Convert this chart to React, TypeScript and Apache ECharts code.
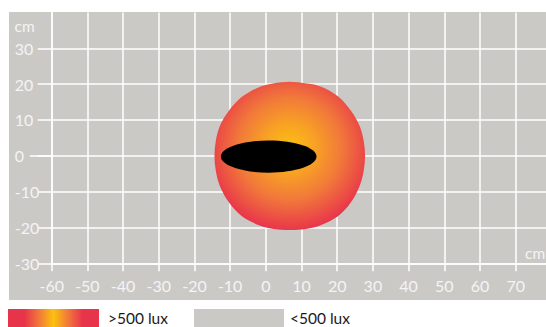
import { useEffect, useRef } from "react";
import * as echarts from "echarts";

const xTicks = [-60, -50, -40, -30, -20, -10, 0, 10, 20, 30, 40, 50, 60, 70];
const yTicks = [-30, -20, -10, 0, 10, 20, 30];
const yLongTicks = [0];
const unitLabel = "cm";

// outline of the >500 lux zone, read clockwise from the top (cm)
const zoneOutline: [number, number][] = [
  [6.7, 20.7], [11.5, 20.2], [15.5, 19.3], [20.2, 16.6], [23.9, 12.5], [26.2, 8.5],
  [27.4, 4.3], [27.8, 0], [27.4, -4.3], [26.2, -8.6], [23.7, -13.2], [20.2, -16.9],
  [15.5, -19.3], [11.2, -20.4], [6.7, -20.7], [2.2, -20.4], [-2.1, -19.3], [-6.7, -16.9],
  [-10.2, -13.2], [-12.8, -8.6], [-14.0, -4.3], [-14.4, 0], [-14.0, 4.3], [-12.8, 8.5],
  [-10.4, 12.5], [-6.8, 16.4], [-2.1, 19.1], [2.0, 20.2],
];

// black head (ellipse): centre and radii in cm
const headCenter: [number, number] = [0.8, -0.2];
const headRadii: [number, number] = [13.4, 4.5];

const legendLabels = [">500 lux", "<500 lux"];

const GREY = "#cbc9c6";
const LABEL = "#f4f4f4";
const RED = "#e8344b";
const ORANGE = "#f1783a";
const YELLOW = "#fcc10f";
const FONT = "Lato";

// closed Catmull-Rom curve through pixel points, as SVG path data (rendering only)
function closedCurve(pts: number[][]): string {
  const n = pts.length;
  let d = `M${pts[0][0]},${pts[0][1]}`;
  for (let i = 0; i < n; i++) {
    const p0 = pts[(i - 1 + n) % n];
    const p1 = pts[i];
    const p2 = pts[(i + 1) % n];
    const p3 = pts[(i + 2) % n];
    const c1x = p1[0] + (p2[0] - p0[0]) / 6;
    const c1y = p1[1] + (p2[1] - p0[1]) / 6;
    const c2x = p2[0] - (p3[0] - p1[0]) / 6;
    const c2y = p2[1] - (p3[1] - p1[1]) / 6;
    d += ` C${c1x},${c1y} ${c2x},${c2y} ${p2[0]},${p2[1]}`;
  }
  return d + " Z";
}

export default function App() {
  const ref = useRef<HTMLDivElement>(null);
  useEffect(() => {
    if (!ref.current) return;
    const chart = echarts.init(ref.current, undefined, { renderer: "svg" });
    const ySplitColors = [...yTicks.map(() => "#ffffff"), "rgba(0,0,0,0)"];
    const textStyle = (text: string, fill: string, size: number) => ({
      text,
      fill,
      fontSize: size,
      fontFamily: FONT,
      verticalAlign: "middle",
      lineHeight: 12,
    });
    const white = { color: "#ffffff", width: 1.5 };
    chart.setOption({
      animation: false,
      backgroundColor: "#ffffff",
      grid: { left: 51.7, top: 12.5, right: -3, bottom: 63.7, containLabel: false },
      xAxis: {
        type: "value",
        min: -60,
        max: 78.5,
        interval: 10,
        axisLine: { show: true, onZero: false, lineStyle: white },
        axisTick: { show: true, length: 8, customValues: xTicks, lineStyle: white },
        axisLabel: { customValues: xTicks, color: LABEL, fontSize: 16, fontFamily: FONT, margin: 14.5 },
        splitLine: { show: true, lineStyle: white },
      },
      yAxis: [
        {
          type: "value",
          min: -30,
          max: 40,
          interval: 10,
          axisLine: { show: true, onZero: false, lineStyle: white },
          axisTick: { show: true, length: 14, customValues: yTicks, lineStyle: white },
          axisLabel: { customValues: yTicks, color: LABEL, fontSize: 16, fontFamily: FONT, margin: 37, align: "left" },
          splitLine: { show: true, lineStyle: { color: ySplitColors, width: 1.5 } },
        },
        {
          type: "value",
          position: "left",
          min: -30,
          max: 40,
          interval: 10,
          axisLine: { show: false, onZero: false },
          axisTick: { show: true, length: 22, customValues: yLongTicks, lineStyle: white },
          axisLabel: { show: false },
          splitLine: { show: false },
        },
      ],
      graphic: [
        { type: "rect", z: -100, shape: { x: 9, y: 12, width: 540, height: 288 }, style: { fill: GREY } },
        { type: "text", x: 14.5, y: 25.5, style: textStyle(unitLabel, LABEL, 15.5) },
        { type: "text", x: 525, y: 252.5, style: textStyle(unitLabel, LABEL, 15.5) },
        {
          type: "rect",
          shape: { x: 8, y: 309, width: 91, height: 22 },
          style: {
            fill: new echarts.graphic.LinearGradient(0, 0, 1, 0, [
              { offset: 0, color: RED },
              { offset: 0.18, color: RED },
              { offset: 0.34, color: ORANGE },
              { offset: 0.5, color: YELLOW },
              { offset: 0.66, color: ORANGE },
              { offset: 0.82, color: RED },
              { offset: 1, color: RED },
            ]),
          },
        },
        { type: "text", x: 108, y: 317.7, style: textStyle(legendLabels[0], "#1a1a1a", 15.5) },
        { type: "rect", shape: { x: 194, y: 309, width: 90, height: 22 }, style: { fill: GREY } },
        { type: "text", x: 290, y: 317.7, style: textStyle(legendLabels[1], "#1a1a1a", 15.5) },
      ],
      series: [
        {
          type: "custom",
          name: ">500 lux",
          coordinateSystem: "cartesian2d",
          data: [zoneOutline[0]],
          z: 3,
          renderItem: (_params: any, api: any) => ({
            type: "path",
            shape: { pathData: closedCurve(zoneOutline.map((p) => api.coord(p))) },
            style: {
              fill: new echarts.graphic.RadialGradient(0.5, 0.45, 0.56, [
                { offset: 0, color: YELLOW },
                { offset: 0.3, color: "#f8a224" },
                { offset: 0.62, color: ORANGE },
                { offset: 1, color: RED },
              ]),
            },
          }),
        },
        {
          type: "custom",
          name: "head",
          coordinateSystem: "cartesian2d",
          data: [headCenter],
          z: 4,
          renderItem: (_params: any, api: any) => {
            const c = api.coord(headCenter);
            const s = api.size([headRadii[0], headRadii[1]]);
            return {
              type: "ellipse",
              shape: { cx: c[0], cy: c[1], rx: s[0], ry: s[1] },
              style: { fill: "#000000" },
            };
          },
        },
      ],
    });
    return () => chart.dispose();
  }, []);
  return (
    <div
      ref={ref}
      style={{ position: "fixed", left: 0, top: 0, width: 546, height: 327 }}
    />
  );
}
